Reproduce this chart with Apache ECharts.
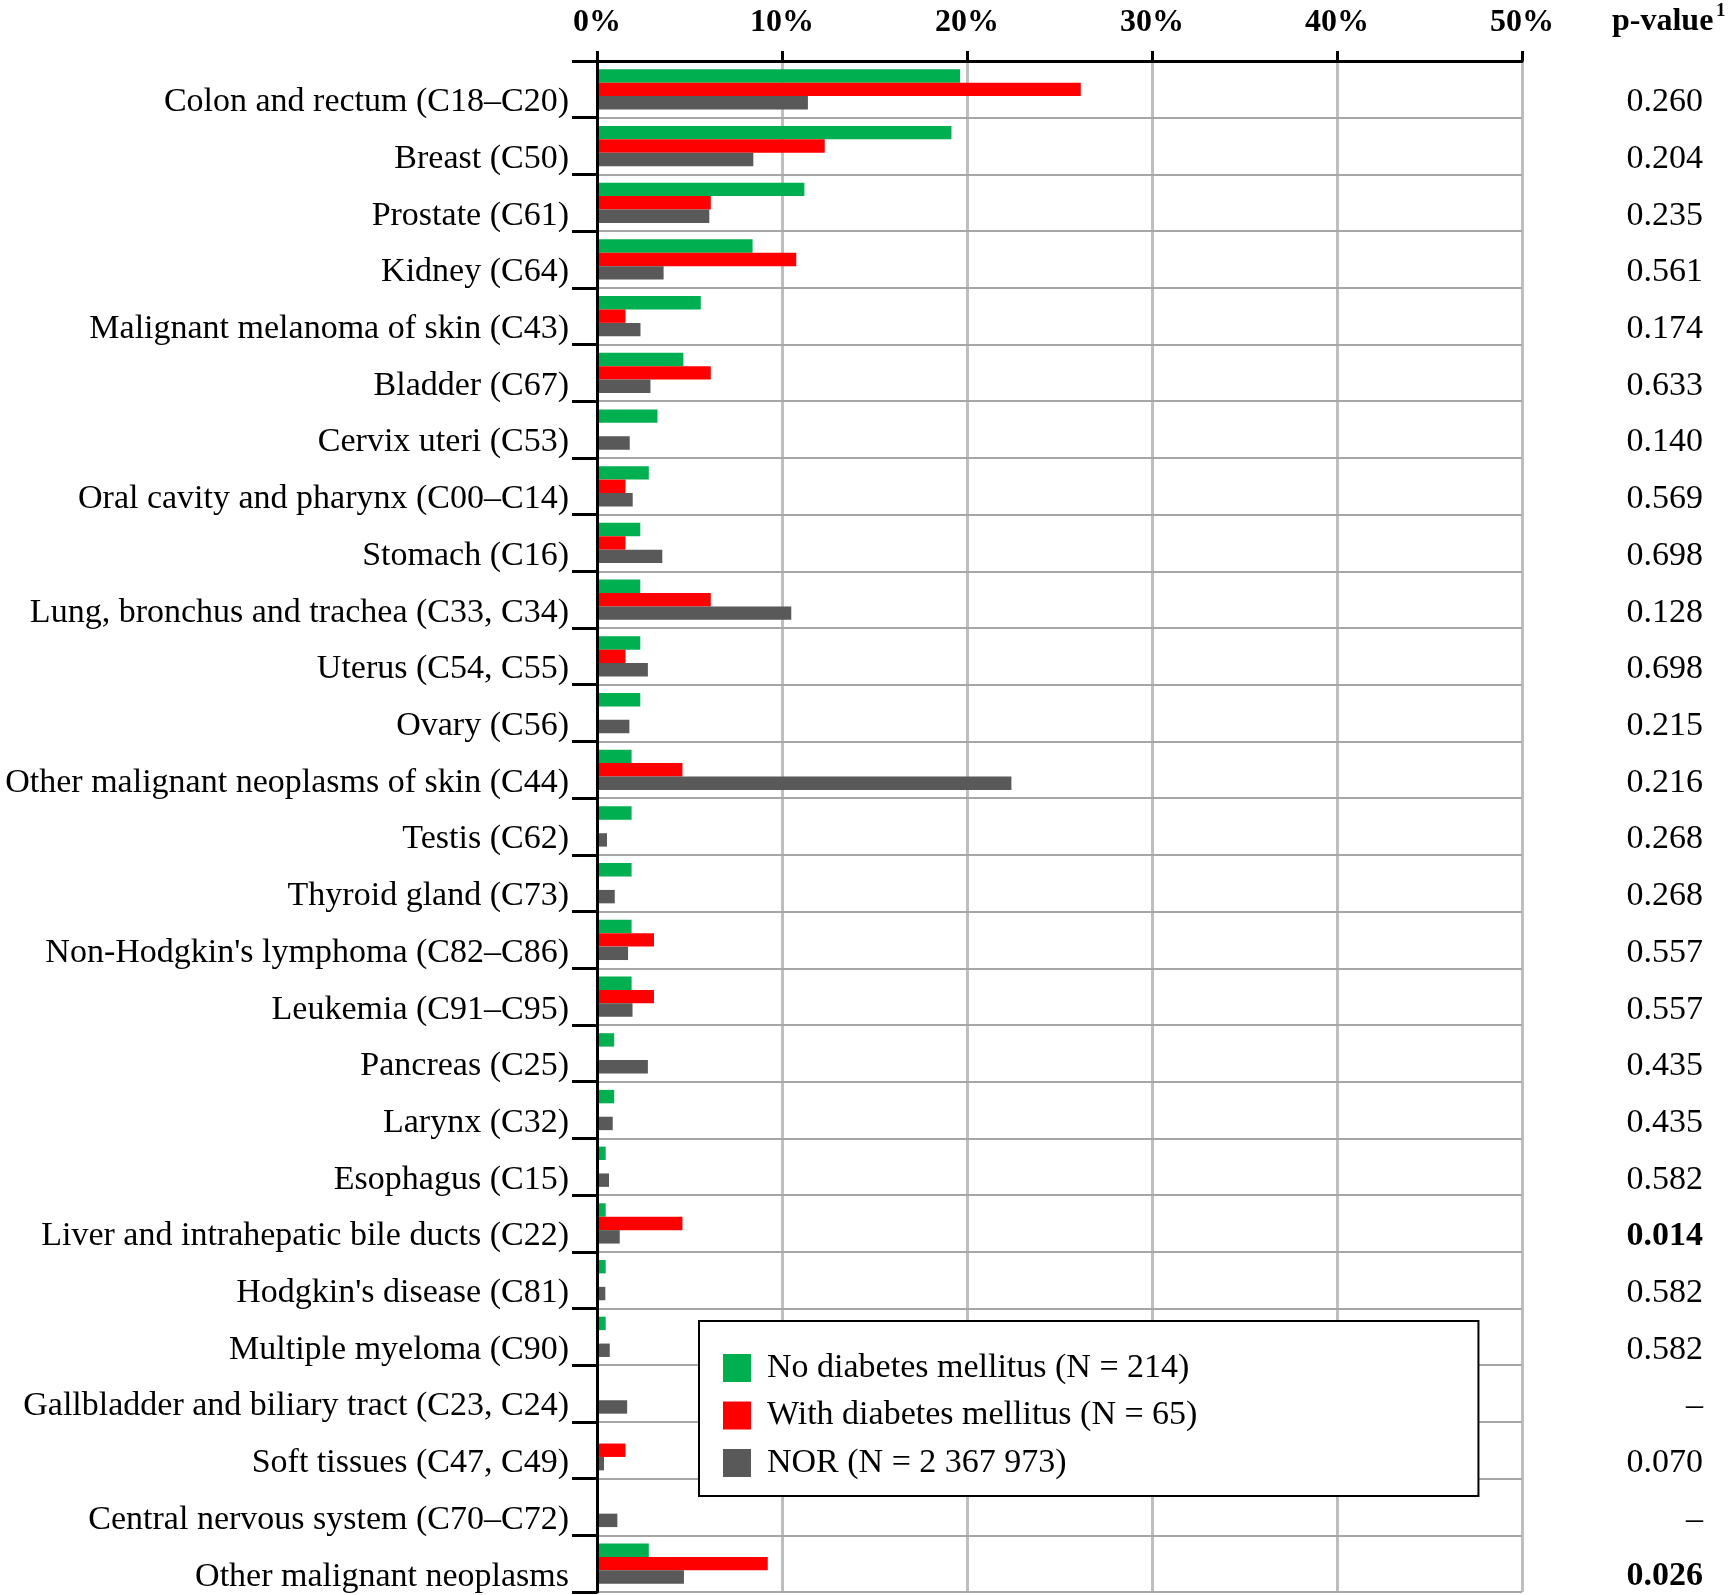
<!DOCTYPE html>
<html>
<head>
<meta charset="utf-8">
<script src="https://cdn.jsdelivr.net/npm/echarts@6/dist/echarts.min.js"></script>
<style>
  html, body { margin: 0; padding: 0; background: #fff; }
  #chart { width: 1732px; height: 1595px; }
</style>
</head>
<body>
<div id="chart"></div>
<script>
let categories = [
  'Colon and rectum (C18–C20)', 'Breast (C50)', 'Prostate (C61)', 'Kidney (C64)',
  'Malignant melanoma of skin (C43)', 'Bladder (C67)', 'Cervix uteri (C53)',
  'Oral cavity and pharynx (C00–C14)', 'Stomach (C16)', 'Lung, bronchus and trachea (C33, C34)',
  'Uterus (C54, C55)', 'Ovary (C56)', 'Other malignant neoplasms of skin (C44)', 'Testis (C62)',
  'Thyroid gland (C73)', "Non-Hodgkin's lymphoma (C82–C86)", 'Leukemia (C91–C95)',
  'Pancreas (C25)', 'Larynx (C32)', 'Esophagus (C15)', 'Liver and intrahepatic bile ducts (C22)',
  "Hodgkin's disease (C81)", 'Multiple myeloma (C90)', 'Gallbladder and biliary tract (C23, C24)',
  'Soft tissues (C47, C49)', 'Central nervous system (C70–C72)', 'Other malignant neoplasms'
];
let noDiabetes = [19.63, 19.16, 11.21, 8.41, 5.61, 4.67, 3.27, 2.80, 2.34, 2.34, 2.34, 2.34, 1.87, 1.87,
  1.87, 1.87, 1.87, 0.93, 0.93, 0.47, 0.47, 0.47, 0.47, 0, 0, 0, 2.80];
let withDiabetes = [26.15, 12.31, 6.15, 10.77, 1.54, 6.15, 0, 1.54, 1.54, 6.15, 1.54, 0, 4.62, 0,
  0, 3.08, 3.08, 0, 0, 0, 4.62, 0, 0, 0, 1.54, 0, 9.23];
let nor = [11.4, 8.45, 6.07, 3.6, 2.35, 2.89, 1.77, 1.93, 3.53, 10.5, 2.75, 1.75, 22.4, 0.54,
  0.96, 1.68, 1.92, 2.75, 0.85, 0.65, 1.23, 0.45, 0.69, 1.63, 0.38, 1.10, 4.70];
let pValues = ['0.260', '0.204', '0.235', '0.561', '0.174', '0.633', '0.140', '0.569', '0.698', '0.128',
  '0.698', '0.215', '0.216', '0.268', '0.268', '0.557', '0.557', '0.435', '0.435', '0.582',
  '0.014', '0.582', '0.582', '–', '0.070', '–', '0.026'];
let seriesNames = ['No diabetes mellitus (N = 214)', 'With diabetes mellitus (N = 65)', 'NOR (N = 2 367 973)'];
let colors = ['#00b050', '#ff0000', '#595959'];

let serif = "'Liberation Serif', 'Times New Roman', serif";

let chart = echarts.init(document.getElementById('chart'), null, { renderer: 'canvas' });

let option = {
  animation: false,
  backgroundColor: '#fff',
  color: colors,
  grid: { left: 597, top: 61, width: 925, height: 1531 },
  legend: {
    orient: 'vertical',
    left: 699,
    top: 1321,
    padding: [30, 281, 16, 24],
    itemWidth: 28,
    itemHeight: 28,
    itemGap: 13.5,
    icon: 'rect',
    borderColor: '#000',
    borderWidth: 2,
    backgroundColor: '#fff',
    // default gap between square and text is 5px, the figure has about 16
    formatter: function (name) {
      return '{t|' + name + '}';
    },
    textStyle: {
      fontFamily: serif, fontSize: 34, color: '#000',
      rich: { t: { fontFamily: serif, fontSize: 34, color: '#000', padding: [0, 0, 0, 11] } }
    },
    data: seriesNames
  },
  graphic: [
    {
      type: 'text', left: 1612, top: 6,
      style: { text: 'p-value', font: 'bold 32px ' + serif, fill: '#000' }
    },
    {
      type: 'text', left: 1716, top: 2,
      style: { text: '1', font: 'bold 19px ' + serif, fill: '#000' }
    }
  ],
  xAxis: {
    type: 'value',
    position: 'top',
    min: 0,
    max: 50,
    interval: 10,
    axisLine: { show: true, lineStyle: { color: '#000', width: 3 } },
    axisTick: { show: true, length: 10, lineStyle: { color: '#000', width: 3 } },
    axisLabel: {
      formatter: '{value}%', margin: 22,
      fontFamily: serif, fontSize: 32, fontWeight: 'bold', color: '#000'
    },
    splitLine: { show: true, showMinLine: false, lineStyle: { color: '#bfbfbf', width: 3 } }
  },
  yAxis: [
    {
      type: 'category',
      inverse: true,
      data: categories,
      z: 3,
      axisLine: { show: true, lineStyle: { color: '#000', width: 3 } },
      axisTick: { show: true, length: 25, lineStyle: { color: '#000', width: 3 } },
      axisLabel: {
        margin: 28, verticalAlign: 'top', lineHeight: 26,
        fontFamily: serif, fontSize: 34, color: '#000'
      },
      splitLine: { show: true, showMinLine: false, lineStyle: { color: '#a6a6a6', width: 2 } }
    },
    {
      type: 'category',
      inverse: true,
      position: 'right',
      data: categories,
      axisLine: { show: false },
      axisTick: { show: false },
      splitLine: { show: false },
      axisLabel: {
        margin: 181, align: 'right', verticalAlign: 'top', lineHeight: 26,
        fontFamily: serif, fontSize: 34, color: '#000',
        formatter: function (v, i) {
          let p = pValues[i];
          return parseFloat(p) < 0.05 ? '{b|' + p + '}' : p;
        },
        rich: { b: { fontFamily: serif, fontSize: 34, fontWeight: 'bold', color: '#000', lineHeight: 26 } }
      }
    }
  ],
  series: [
    { name: seriesNames[0], type: 'bar', data: noDiabetes, barGap: '0%', barCategoryGap: '29%' },
    { name: seriesNames[1], type: 'bar', data: withDiabetes, barGap: '0%', barCategoryGap: '29%' },
    { name: seriesNames[2], type: 'bar', data: nor, barGap: '0%', barCategoryGap: '29%' }
  ]
};

chart.setOption(option);
</script>
</body>
</html>
